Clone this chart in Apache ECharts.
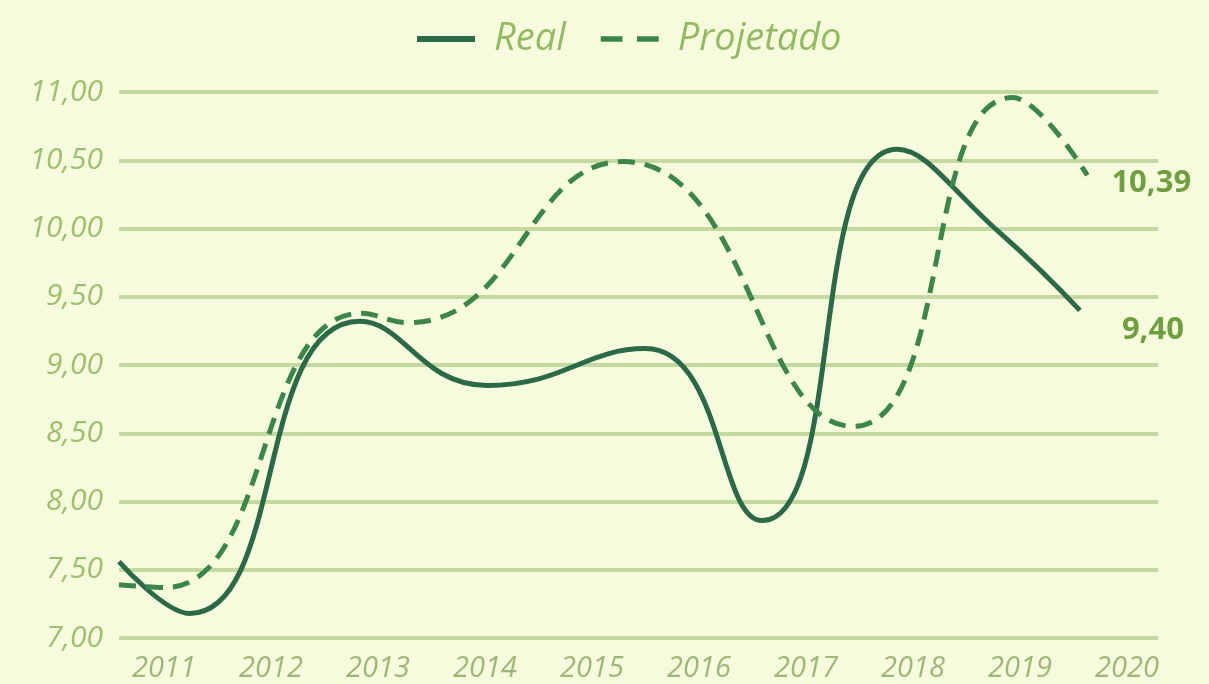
<!DOCTYPE html>
<html>
<head>
<meta charset="utf-8">
<script src="https://cdn.jsdelivr.net/npm/echarts@6/dist/echarts.min.js"></script>
<style>
  html, body { margin: 0; padding: 0; background: #f7fbdd; }
  #chart { width: 1209px; height: 684px; }
</style>
</head>
<body>
<div id="chart"></div>
<script>
// anos no eixo x
const years = [2011, 2012, 2013, 2014, 2015, 2016, 2017, 2018, 2019, 2020]

// Real: pontos (ano fracionado, valor)
const realX = [2010.58, 2011.24, 2012.83, 2014.02, 2015.5, 2016.59, 2017.85, 2018.81, 2019.56]
const realY = [7.56, 7.18, 9.32, 8.85, 9.12, 7.86, 10.58, 9.97, 9.40]

// Projetado
const projX = [2010.58, 2011.01, 2012.85, 2013.28, 2015.29, 2017.44, 2018.93, 2019.63]
const projY = [7.39, 7.37, 9.38, 9.31, 10.49, 8.55, 10.96, 10.39]

const fmt = v => v.toFixed(2).replace('.', ',')

const myChart = echarts.init(document.getElementById('chart'))

const option = {
  animation: false,
  backgroundColor: '#f7fbdd',
  textStyle: { fontFamily: 'Open Sans' },
  legend: {
    left: 412,
    top: 15,
    itemWidth: 58,
    itemHeight: 6,
    itemGap: 35,
    textStyle: {
      color: '#92bb62', fontSize: 38, fontStyle: 'italic', fontFamily: 'Open Sans',
      padding: [0, 0, 0, 14]
    },
    data: [
      { name: 'Real', icon: 'rect', itemStyle: { color: '#2b6a47' } },
      { name: 'Projetado', icon: 'path://M0,0h24v6h-24zM40,0h24v6h-24z', itemStyle: { color: '#3b8649' } }
    ]
  },
  grid: { left: 119, right: 51, top: 92, bottom: 46 },
  xAxis: {
    type: 'value',
    min: 2010.58,
    max: 2020.29,
    axisLine: { show: false },
    axisTick: { show: false },
    splitLine: { show: false },
    axisLabel: {
      customValues: years,
      formatter: v => String(Math.round(v)),
      color: '#9db875',
      fontSize: 29,
      fontStyle: 'italic',
      margin: 16
    }
  },
  yAxis: {
    type: 'value',
    min: 7,
    max: 11,
    interval: 0.5,
    axisLine: { show: false },
    axisTick: { show: false },
    axisLabel: {
      formatter: fmt,
      color: '#9cc06c',
      fontSize: 30,
      fontStyle: 'italic',
      margin: 16
    },
    splitLine: { lineStyle: { color: '#c4d9a2', width: 4 } }
  },
  series: [
    {
      name: 'Real',
      type: 'line',
      smooth: 0.5,
      symbol: 'none',
      data: realX.map((x, i) => [x, realY[i]]),
      lineStyle: { color: '#2b6a47', width: 5 },
      itemStyle: { color: '#2b6a47' },
      endLabel: {
        show: true,
        formatter: p => fmt(p.value[1]),
        color: '#6f9f3f',
        fontSize: 31,
        fontWeight: 'bold',
        distance: 42,
        offset: [0, 20]
      }
    },
    {
      name: 'Projetado',
      type: 'line',
      smooth: 0.5,
      symbol: 'none',
      data: projX.map((x, i) => [x, projY[i]]),
      lineStyle: { color: '#3b8649', width: 5, type: [17, 10] },
      itemStyle: { color: '#3b8649' },
      endLabel: {
        show: true,
        formatter: p => fmt(p.value[1]),
        color: '#6f9f3f',
        fontSize: 31,
        fontWeight: 'bold',
        distance: 24,
        offset: [0, 8]
      }
    }
  ]
}

myChart.setOption(option)
window.addEventListener('resize', () => myChart.resize())
</script>
</body>
</html>
